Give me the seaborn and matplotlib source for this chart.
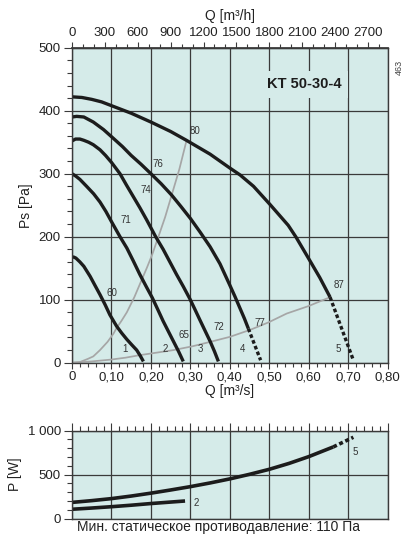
import matplotlib
matplotlib.use("Agg")
import matplotlib.pyplot as plt
from matplotlib.ticker import MultipleLocator
import seaborn as sns

# fan curves Ps [Pa] vs Q [m3/s], speed steps 1..5
q1 = [0, 0.005, 0.010, 0.020, 0.030, 0.046, 0.058, 0.071, 0.084, 0.096, 0.113, 0.126, 0.139, 0.152, 0.164, 0.173, 0.181]
ps1 = [168, 167.5, 166, 160, 153, 137, 123, 108, 92, 76, 58, 47, 37, 28, 20, 11, 2]

q2 = [0, 0.010, 0.020, 0.037, 0.055, 0.071, 0.086, 0.100, 0.1216, 0.139, 0.155, 0.172, 0.188, 0.2035, 0.217, 0.231, 0.244, 0.257, 0.270, 0.282]
ps2 = [300, 296, 291, 280, 268, 255, 240, 224, 200, 182, 162, 140, 121, 103, 85, 66, 50, 34, 18, 2]

q3 = [0, 0.009, 0.020, 0.030, 0.042, 0.054, 0.071, 0.085, 0.100, 0.1216, 0.138, 0.155, 0.172, 0.189, 0.212, 0.231, 0.248, 0.265, 0.282, 0.299, 0.312, 0.324, 0.337, 0.350, 0.361, 0.371]
ps3 = [352, 355, 355, 353, 350, 346, 338, 329, 318, 300, 282, 264, 246, 227, 200, 180, 160, 140, 121, 101, 84, 68, 51, 34, 18, 2]

q4 = [0, 0.012, 0.030, 0.054, 0.080, 0.105, 0.128, 0.150, 0.175, 0.200, 0.226, 0.2526, 0.276, 0.300, 0.325, 0.350, 0.375, 0.400, 0.413, 0.426, 0.437, 0.447]
ps4 = [390, 391, 390, 382, 370, 356, 343, 329, 315, 300, 284, 266, 248, 229, 207, 184, 157, 123, 105, 86, 70, 54]
q4_dot = [0.447, 0.478]
ps4_dot = [54, 4]

q5 = [0, 0.025, 0.050, 0.075, 0.100, 0.150, 0.200, 0.250, 0.290, 0.350, 0.400, 0.426, 0.460, 0.502, 0.548, 0.568, 0.600, 0.628, 0.654]
ps5 = [422, 421, 418, 414, 408, 396, 382, 367, 353, 331, 309, 298, 280, 251, 218, 199, 165, 135, 104]
q5_dot = [0.654, 0.713]
ps5_dot = [104, 4]

# system curves (grey)
qa = [0, 0.020, 0.040, 0.054, 0.071, 0.090, 0.105, 0.113, 0.126, 0.139, 0.158, 0.177, 0.190, 0.2035, 0.219, 0.236, 0.2526, 0.272, 0.290]
psa = [0, 1, 6, 10, 20, 33, 46, 55, 67, 80, 104, 132, 151, 172, 200, 231, 266, 307, 352]
qb = [0, 0.050, 0.100, 0.136, 0.172, 0.215, 0.257, 0.305, 0.350, 0.400, 0.451, 0.498, 0.544, 0.600, 0.654]
psb = [0, 2, 5, 8, 12, 16, 20, 26, 33, 41, 52, 64, 78, 90, 104]

# power P [W]
qp5 = [0, 0.05, 0.1, 0.15, 0.2, 0.25, 0.3, 0.35, 0.4, 0.45, 0.5, 0.55, 0.6, 0.662]
p5 = [185, 205, 228, 257, 290, 326, 364, 406, 452, 504, 561, 628, 705, 815]
qp5_dot = [0.662, 0.713]
p5_dot = [815, 925]
qp2 = [0, 0.05, 0.1, 0.15, 0.2, 0.2865]
p2 = [107, 121, 136, 153, 172, 201]

# sound level labels (Q, Ps, text)
snd_q = [0.100, 0.137, 0.1875, 0.217, 0.312, 0.284, 0.373, 0.475, 0.677]
snd_ps = [111, 227, 274, 315, 367, 44, 56, 63, 123]
snd_txt = ["60", "71", "74", "76", "80", "65", "72", "77", "87"]
step_q = [0.134, 0.236, 0.326, 0.432, 0.675]
step_txt = ["1", "2", "3", "4", "5"]

q_ticks = [0, 0.1, 0.2, 0.3, 0.4, 0.5, 0.6, 0.7, 0.8]
q_labels = ["0", "0,10", "0,20", "0,30", "0,40", "0,50", "0,60", "0,70", "0,80"]
qh_ticks = [0, 300, 600, 900, 1200, 1500, 1800, 2100, 2400, 2700]
ps_ticks = [0, 100, 200, 300, 400, 500]
p_ticks = [0, 500, 1000]
p_labels = ["0", "500", "1 000"]

sns.set_theme(style="ticks")
plt.rcParams["font.family"] = ["Liberation Sans", "DejaVu Sans"]

bg = "#d5ebe9"
gc = "#3a3a3a"
ink = "#1c1c1c"
grey = "#a6a6a6"
tc = "#222222"
dots = (0, (1.1, 0.75))

fig = plt.figure(figsize=(4.06, 5.39), dpi=100)
ax = fig.add_axes([0.1773, 0.3271, 0.7776, 0.5844])
axp = fig.add_axes([0.1773, 0.0377, 0.7776, 0.1633])

for a in (ax, axp):
    a.set_facecolor(bg)
    a.set_axisbelow(True)
    for s in a.spines.values():
        s.set_color(gc)
        s.set_linewidth(1.0)
    a.tick_params(colors=gc, labelcolor=tc, labelsize=9.5, width=0.8)

solid = dict(sort=False, estimator=None, solid_capstyle="butt", solid_joinstyle="round")

# --- pressure chart
sns.lineplot(x=qa, y=psa, ax=ax, color=grey, linewidth=1.25, **solid)
sns.lineplot(x=qb, y=psb, ax=ax, color=grey, linewidth=1.25, **solid)
for q, ps in [(q1, ps1), (q2, ps2), (q3, ps3), (q4, ps4), (q5, ps5)]:
    sns.lineplot(x=q, y=ps, ax=ax, color=ink, linewidth=2.4, **solid)
for q, ps in [(q4_dot, ps4_dot), (q5_dot, ps5_dot)]:
    sns.lineplot(x=q, y=ps, ax=ax, color=ink, linewidth=2.4, sort=False, estimator=None,
                 linestyle=dots, dash_capstyle="butt")

for q, ps, t in zip(snd_q, snd_ps, snd_txt):
    ax.text(q, ps, t, fontsize=7, color="#333333", ha="center", va="center")
for q, t in zip(step_q, step_txt):
    ax.text(q, 21, t, fontsize=7, color="#333333", ha="center", va="center")

ax.text(0.588, 442, "KT 50-30-4", fontsize=10.5, fontweight="bold", color=ink,
        ha="center", va="center", zorder=3,
        bbox=dict(boxstyle="square,pad=0.45", fc=bg, ec="none"))

ax.set_xlim(0, 0.8)
ax.set_ylim(0, 500)
ax.set_xticks(q_ticks)
ax.set_xticklabels(q_labels)
ax.xaxis.set_minor_locator(MultipleLocator(0.02))
ax.set_yticks(ps_ticks)
ax.yaxis.set_minor_locator(MultipleLocator(20))
ax.tick_params(axis="x", which="major", length=4, pad=2)
ax.tick_params(axis="x", which="minor", length=3, width=0.8, colors=gc)
ax.tick_params(axis="y", which="major", length=6, pad=2)
ax.tick_params(axis="y", which="minor", length=3.5, width=0.8, colors=gc)
ax.grid(True, which="major", color=gc, linewidth=0.9)
ax.set_xlabel("Q [m³/s]", fontsize=10, color=tc, labelpad=1)
ax.set_ylabel("Ps [Pa]", fontsize=10, color=tc, labelpad=4)

sec = ax.secondary_xaxis("top", functions=(lambda q: q * 3600, lambda h: h / 3600))
sec.set_xticks(qh_ticks)
sec.xaxis.set_minor_locator(MultipleLocator(100))
sec.tick_params(axis="x", which="major", length=4, pad=2, colors=gc, labelcolor=tc,
                labelsize=9.5, width=0.8)
sec.tick_params(axis="x", which="minor", length=3, width=0.8, colors=gc)
sec.spines["top"].set_color(gc)
sec.set_xlabel("Q [m³/h]", fontsize=10, color=tc, labelpad=5)

# --- power chart
sns.lineplot(x=qp2, y=p2, ax=axp, color=ink, linewidth=2.6, **solid)
sns.lineplot(x=qp5, y=p5, ax=axp, color=ink, linewidth=2.6, **solid)
sns.lineplot(x=qp5_dot, y=p5_dot, ax=axp, color=ink, linewidth=2.6, sort=False,
             estimator=None, linestyle=dots, dash_capstyle="butt")
axp.text(0.314, 175, "2", fontsize=7, color="#333333", ha="center", va="center")
axp.text(0.717, 761, "5", fontsize=7, color="#333333", ha="center", va="center")

axp.set_xlim(0, 0.8)
axp.set_ylim(0, 1000)
axp.xaxis.tick_top()
axp.set_xticks(q_ticks)
axp.set_xticklabels([])
axp.xaxis.set_minor_locator(MultipleLocator(0.02))
axp.set_yticks(p_ticks)
axp.set_yticklabels(p_labels)
axp.yaxis.set_minor_locator(MultipleLocator(100))
axp.tick_params(axis="x", which="major", length=6, top=True, bottom=False)
axp.tick_params(axis="x", which="minor", length=3.5, width=0.8, colors=gc, top=True, bottom=False)
axp.tick_params(axis="y", which="major", length=6, pad=2)
axp.tick_params(axis="y", which="minor", length=3.5, width=0.8, colors=gc)
axp.grid(True, which="major", color=gc, linewidth=0.9)
axp.set_xlabel("")
axp.set_ylabel("P [W]", fontsize=10, color=tc, labelpad=4)

fig.text(77 / 406, 1 - 527 / 539, "Мин. статическое противодавление: 110 Па",
         fontsize=10, color=tc, ha="left", va="center")
fig.text(399 / 406, 1 - 67 / 539, "463", rotation=90, fontsize=6.5, color="#444444",
         ha="center", va="center")

fig.savefig("out.png", dpi=100)
